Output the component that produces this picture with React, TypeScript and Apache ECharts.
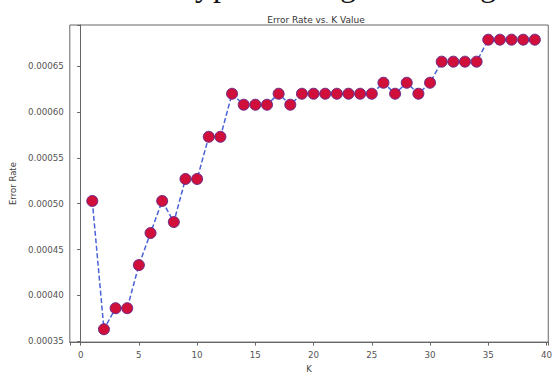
import React, { useEffect, useRef } from "react";
import * as echarts from "echarts";

const kValues = [1, 2, 3, 4, 5, 6, 7, 8, 9, 10, 11, 12, 13, 14, 15, 16, 17, 18, 19, 20, 21, 22, 23, 24, 25, 26, 27, 28, 29, 30, 31, 32, 33, 34, 35, 36, 37, 38, 39];
const errorRates = [
  0.000503, 0.000363, 0.000386, 0.000386, 0.000433, 0.000468, 0.000503, 0.00048, 0.000527, 0.000527,
  0.000573, 0.000573, 0.00062, 0.000608, 0.000608, 0.000608, 0.00062, 0.000608, 0.00062, 0.00062,
  0.00062, 0.00062, 0.00062, 0.00062, 0.00062, 0.000632, 0.00062, 0.000632, 0.00062, 0.000632,
  0.000655, 0.000655, 0.000655, 0.000655, 0.000679, 0.000679, 0.000679, 0.000679, 0.000679,
];
const titleText = "Error Rate vs. K Value";
const xName = "K";
const yName = "Error Rate";
const topGlyphs = ["y", "p", "g", "g"];
const topGlyphX = [203, 221, 348, 488];

export default function App() {
  const ref = useRef<HTMLDivElement>(null);
  useEffect(() => {
    if (!ref.current) return;
    const chart = echarts.init(ref.current, null, { renderer: "svg" });
    const font = "DejaVu Sans";
    chart.setOption({
      animation: false,
      backgroundColor: "#ffffff",
      title: {
        text: titleText,
        left: 311,
        top: 10,
        textAlign: "center",
        textStyle: { fontFamily: font, fontSize: 9, fontWeight: "normal", color: "#333" },
      },
      graphic: topGlyphs.map((g, i) => ({
        type: "text",
        x: topGlyphX[i],
        y: -15,
        style: {
          text: g,
          fontFamily: "Liberation Serif",
          fontSize: 32,
          fill: "#111",
          align: "center",
          verticalAlign: "middle",
        },
      })),
      grid: {
        left: 63,
        right: 5,
        top: 25,
        bottom: 28,
        show: true,
        borderColor: "#666",
        borderWidth: 1,
        backgroundColor: "#fff",
      },
      xAxis: {
        type: "value",
        min: -0.93,
        max: 40.15,
        splitNumber: 8,
        name: xName,
        nameLocation: "middle",
        nameGap: 19,
        nameTextStyle: { fontFamily: font, fontSize: 8.5, color: "#444" },
        axisLine: { lineStyle: { color: "#666", width: 1 } },
        axisTick: { length: 3.5, lineStyle: { color: "#666" } },
        splitLine: { show: false },
        axisLabel: {
          margin: 8,
          fontFamily: font,
          fontSize: 8.7,
          color: "#555",
          formatter: (v: number) =>
            Math.abs(v / 5 - Math.round(v / 5)) < 1e-6 ? String(Math.round(v)) : "",
        },
      },
      yAxis: {
        type: "value",
        min: 0.000349,
        max: 0.000695,
        splitNumber: 7,
        name: yName,
        nameLocation: "middle",
        nameGap: 48,
        nameTextStyle: { fontFamily: font, fontSize: 8.5, color: "#444" },
        axisLine: { show: true, lineStyle: { color: "#666", width: 1 } },
        axisTick: { show: true, length: 3.5, lineStyle: { color: "#666" } },
        splitLine: { show: false },
        axisLabel: {
          margin: 6,
          fontFamily: font,
          fontSize: 8.7,
          color: "#555",
          formatter: (v: number) =>
            Math.abs(v / 0.00005 - Math.round(v / 0.00005)) < 1e-6 ? v.toFixed(5) : "",
        },
      },
      series: [
        {
          type: "line",
          data: kValues.map((k, i) => [k, errorRates[i]]),
          symbol: "circle",
          symbolSize: 11,
          lineStyle: { color: "#4a62d8", width: 1.5, type: [5, 2.5] },
          itemStyle: { color: "#d0103a", borderColor: "#6a2a8a", borderWidth: 1 },
          z: 3,
        },
      ],
    });
    return () => chart.dispose();
  }, []);
  return (
    <div
      ref={ref}
      style={{ position: "fixed", left: 0, top: 0, width: 555, height: 378 }}
    />
  );
}
